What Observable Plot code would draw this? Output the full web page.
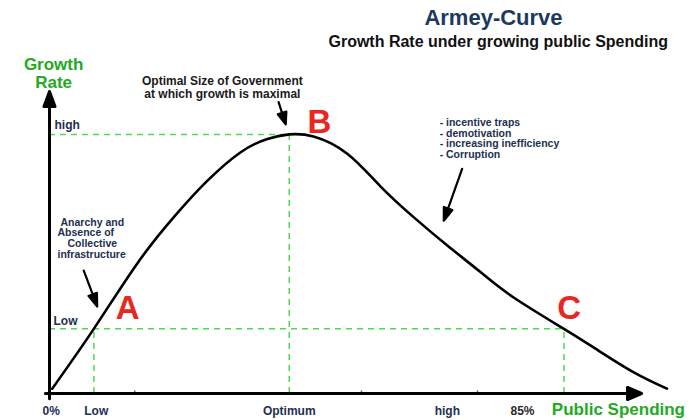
<!DOCTYPE html>
<html><head><meta charset="utf-8">
<script src="https://cdn.jsdelivr.net/npm/d3@7"></script>
<script src="https://cdn.jsdelivr.net/npm/@observablehq/plot@0.6"></script>
<style>body{margin:0;background:#fff}</style>
</head><body><div id="chart"></div>
<script>
// ---- data ----
const spending = [0.46, 7.48, 14.8, 21.0, 26.6, 32.3, 36.8, 40.5, 44.6, 50.3, 55.9, 61.5, 67.2, 72.8, 78.4, 86.9, 92.5, 98.7, 104.3];
const growth   = [1.6, 21.4, 43.0, 58.4, 70.3, 79.9, 84.3, 85.8, 85.1, 79.4, 68.6, 58.4, 49.0, 40.2, 31.8, 21.4, 14.5, 7.0, 1.6];
const lowGrowth = 21.4, highGrowth = 85.8;
const spendLow = 7.5, spendOptimum = 40.5, spendC = 86.9;
const xTickLabels = ["0%", "Low", "Optimum", "high", "85%"];
const xTickValues = [0.3, 7.9, 40.5, 67.2, 79.9];
const minorTicks = [14.4, 52.7, 72.3];
const pointNames = ["A", "B", "C"];
const pointX = [13.2, 45.6, 87.8];
const pointY = [24.8, 86.4, 24.8];
const anarchyLines = ["Anarchy and", "Absence of", "Collective", "infrastructure"];
const anarchyX = [1.86, 1.35, 3.04, 1.35];
const anarchyY = [55.6, 52.05, 48.5, 44.95];
const problems = ["- incentive traps", "- demotivation", "- increasing inefficiency", "- Corruption"];

const curveData = spending.map((x, i) => ({x, y: growth[i]}));
const hDash = [{y: lowGrowth, x1: 0, x2: spendC}, {y: highGrowth, x1: 0, x2: spendOptimum}];
const vDash = [{x: spendLow, y1: 0, y2: lowGrowth}, {x: spendOptimum, y1: 0, y2: highGrowth}, {x: spendC, y1: 0, y2: lowGrowth}];
const ticks = xTickLabels.map((t, i) => ({t, x: xTickValues[i]}));
const points = pointNames.map((t, i) => ({t, x: pointX[i], y: pointY[i]}));
const anarchy = anarchyLines.map((t, i) => ({t, x: anarchyX[i], y: anarchyY[i]}));

// ---- layout ----
const W = 690, H = 420, ML = 49, MR = 49, MT = 91, MB = 27;
const kx = (W - ML - MR) / 100, ky = (H - MT - MB) / 100;
function vec(x1, y1, x2, y2) {
  const dx = (x2 - x1) * kx, dy = -(y2 - y1) * ky;
  return {len: Math.hypot(dx, dy), rot: Math.atan2(dx, -dy) * 180 / Math.PI};
}
function arrowShape(h, w) {
  return {draw(ctx, l) {
    ctx.moveTo(0, 0); ctx.lineTo(0, -(l - h * 0.6));
    ctx.moveTo(0, -l); ctx.lineTo(-w, -l + h); ctx.lineTo(w, -l + h); ctx.closePath();
  }};
}
function arrowMark(x1, y1, x2, y2, h, w, sw) {
  const v = vec(x1, y1, x2, y2);
  return Plot.vector([0], {x: () => x1, y: () => y1, length: v.len, rotate: v.rot, anchor: "start",
    shape: arrowShape(h, w), stroke: "#000", fill: "#000", strokeWidth: sw});
}
const font = "'Liberation Sans', Arial, sans-serif";
const navy = "#1e3050", green = "#22aa22", dash = "#4fd94f", red = "#e8281e";

const chart = Plot.plot({
  width: W, height: H, marginLeft: ML, marginRight: MR, marginTop: MT, marginBottom: MB,
  x: {domain: [0, 100], axis: null},
  y: {domain: [0, 100], axis: null},
  style: {fontFamily: font, background: "#fff", overflow: "visible"},
  marks: [
    Plot.ruleY(hDash, {y: "y", x1: "x1", x2: "x2", stroke: dash, strokeWidth: 1.5, strokeDasharray: "6,5"}),
    Plot.ruleX(vDash, {x: "x", y1: "y1", y2: "y2", stroke: dash, strokeWidth: 1.5, strokeDasharray: "6,5"}),
    Plot.ruleX(minorTicks, {x: d => d, y1: 0, y2: 0.9, stroke: green, strokeWidth: 1.5}),
    arrowMark(0, -1.7, 0, 100, 15, 5.5, 3),
    arrowMark(-0.7, 0, 100, 0, 14, 6, 3),
    Plot.line(curveData, {x: "x", y: "y", curve: "natural", stroke: "#000", strokeWidth: 2.6}),
    arrowMark(38.7, 96.5, 39.9, 89.1, 12, 4.5, 2.2),
    arrowMark(69.7, 74.4, 66.6, 57.2, 13, 4.5, 2.2),
    arrowMark(5.79, 40.7, 8.06, 28.8, 13, 4.5, 2.2),
    // text
    Plot.text(["Armey-Curve"], {x: () => 75, y: () => 121.9, text: d => d, fontSize: 22, fontWeight: "bold", fill: "#1b3a5e", lineAnchor: "bottom"}),
    Plot.text(["Growth Rate under growing public Spending"], {x: () => 75.8, y: () => 114.9, text: d => d, fontSize: 16, fontWeight: "bold", fill: "#111", lineAnchor: "bottom"}),
    Plot.text(["Growth\nRate"], {x: () => 0.7, y: () => 101.0, text: d => d, fontSize: 17, fontWeight: "bold", fill: green, lineAnchor: "bottom", lineHeight: 1.06}),
    Plot.text(["Optimal Size of Government\nat which growth is maximal"], {x: () => 29.2, y: () => 98.0, text: d => d, fontSize: 12, fontWeight: "bold", fill: "#1a1a1a", lineAnchor: "bottom", lineHeight: 1.08}),
    Plot.text(["high"], {x: () => 0.84, y: () => 87.7, text: d => d, fontSize: 12, fontWeight: "bold", fill: navy, textAnchor: "start", lineAnchor: "bottom"}),
    Plot.text(["Low"], {x: () => 0.68, y: () => 22.8, text: d => d, fontSize: 12, fontWeight: "bold", fill: navy, textAnchor: "start", lineAnchor: "bottom"}),
    Plot.text([problems.join("\n")], {x: () => 65.9, y: () => 78.0, text: d => d, fontSize: 10.5, fontWeight: "bold", fill: navy, textAnchor: "start", lineAnchor: "bottom", lineHeight: 1.02}),
    Plot.text(anarchy, {x: "x", y: "y", text: "t", fontSize: 10.5, fontWeight: "bold", fill: navy, textAnchor: "start", lineAnchor: "bottom"}),
    Plot.text(points, {x: "x", y: "y", text: "t", fontSize: 33, fontWeight: "bold", fill: red, lineAnchor: "bottom",
      fontFamily: "'Liberation Sans Narrow', 'Arial Narrow', 'Liberation Sans', sans-serif"}),
    Plot.text(ticks, {x: "x", y: () => -7.2, text: "t", fontSize: 12, fontWeight: "bold", fill: d => d.t === "85%" ? "#2a2a2a" : navy, lineAnchor: "bottom"}),
    Plot.text(["Public Spending"], {x: () => 96.1, y: () => -7.0, text: d => d, fontSize: 17, fontWeight: "bold", fill: green, lineAnchor: "bottom"})
  ]
});
document.getElementById("chart").appendChild(chart);
</script>
</body></html>
